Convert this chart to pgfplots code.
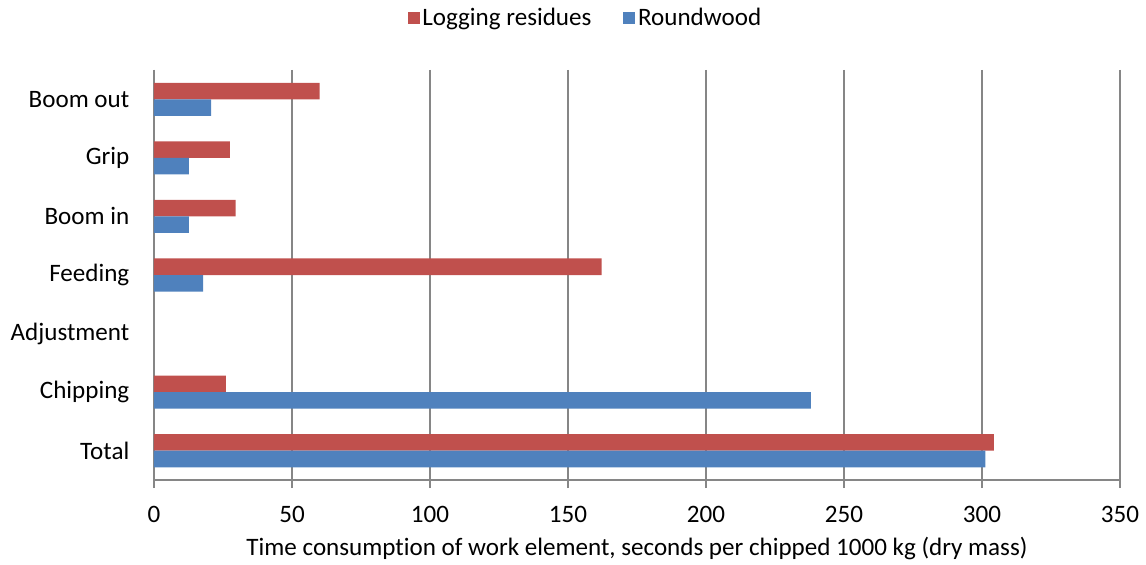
\documentclass[border=0pt]{standalone}
\usepackage{pgfplots}
\pgfplotsset{compat=1.18}
\usepackage{fontspec}
\setmainfont[Ligatures={NoCommon}]{Carlito}
\definecolor{resred}{HTML}{C0504D}
\definecolor{rwblue}{HTML}{4F81BD}
\definecolor{axgray}{HTML}{868686}
\begin{document}
\begin{tikzpicture}
\begin{axis}[
 name=ax,
 scale only axis,
 width=724.5pt, height=307.5pt,
 xbar, bar width=12.4pt,
 xmin=0, xmax=350, xtick={0,50,...,350},
 ymin=-0.5, ymax=6.5, y dir=reverse,
 ytick={0,...,6},
 yticklabels={Boom out,Grip,Boom in,Feeding,Adjustment,Chipping,Total},
 axis x line=bottom, axis y line=left,
 axis line style={-, draw=axgray, line width=1pt},
 xmajorgrids, grid style={axgray, line width=0.9pt},
 tick align=outside,
 x tick style={axgray, line width=0.9pt}, major tick length=6pt,
 y tick style={draw=none},
 tick label style={font=\fontsize{18.8}{22}\selectfont},
 xticklabel style={yshift=-10pt},
 yticklabel style={xshift=-9pt},
 /pgf/number format/assume math mode=true,
 xlabel={Time consumption of work element, seconds per chipped 1000 kg (dry mass)},
 label style={font=\fontsize{18.8}{22}\selectfont},
 xlabel style={yshift=-4pt},
 legend style={at={(0.447,1.127)}, anchor=center, draw=none, legend columns=2,
   font=\fontsize{18.8}{22}\selectfont,
   /tikz/every even column/.append style={column sep=22pt}},
 legend image code/.code={\fill[#1] (0pt,-4.5pt) rectangle (9pt,4.5pt);},
]
\addplot[fill=resred, draw=none, bar shift=6.2pt] coordinates {(60,0) (27.5,1) (29.6,2) (162.2,3) (26,5) (304.3,6)};
\addlegendentry{Logging residues}
\addplot[fill=rwblue, draw=none, bar shift=-6.2pt] coordinates {(20.7,0) (12.6,1) (12.6,2) (17.8,3) (238,5) (301.2,6)};
\addlegendentry{Roundwood}
\end{axis}
\path (ax.south west) ++(-115.5pt,-63pt) rectangle ++(859.5pt,423pt);
\end{tikzpicture}
\end{document}
